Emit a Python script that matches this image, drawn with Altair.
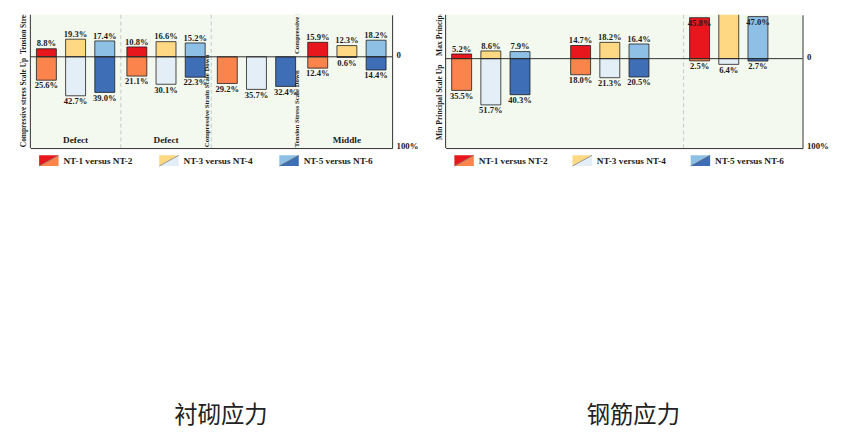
import altair as alt
import pandas as pd

# ---------------- data ----------------
SERIES = ["NT-1 versus NT-2", "NT-3 versus NT-4", "NT-5 versus NT-6"]
KEYS = ["s1_top", "s1_bot", "s2_top", "s2_bot", "s3_top", "s3_bot"]
COLORS = ["#e8161d", "#fb834c", "#fed883", "#e4eef6", "#8ec0e6", "#3d6eb6"]

LEFT_GROUPS = ["L1", "L2", "L3", "L4"]
LEFT_GROUP_LABELS = ["Defect", "Defect", "", "Middle"]
LEFT_TOP = [[8.8, 19.3, 17.4], [10.8, 16.6, 15.2], [None, None, None], [15.9, 12.3, 18.2]]
LEFT_BOTTOM = [[25.6, 42.7, 39.0], [21.1, 30.1, 22.3], [29.2, 35.7, 32.4], [12.4, 0.6, 14.4]]
LEFT_SEPARATORS = ["L2", "L3"]
LEFT_NOTE_GROUPS = ["L3", "L4", "L4"]
LEFT_NOTE_TEXTS = ["Compressive Strain Scale Down", "Tension Stress Scale Down", "Compressive Stress"]
LEFT_NOTE_START = [-99, -99, 3]
LEFT_SIDE_TEXTS = ["Compressive stress Scale Up", "Tension Stress Scale Down"]
LEFT_SIDE_START = [-99, 3]

RIGHT_GROUPS = ["R1", "R2", "R3"]
RIGHT_GROUP_LABELS = ["", "", ""]
RIGHT_TOP = [[5.2, 8.6, 7.9], [14.7, 18.2, 16.4], [45.8, 60.0, 47.0]]
RIGHT_BOTTOM = [[35.5, 51.7, 40.3], [18.0, 21.3, 20.5], [2.5, 6.4, 2.7]]
RIGHT_SEPARATORS = ["R3"]
RIGHT_SIDE_TEXTS = ["Min Principal Scale Up", "Max Principal Scale Down"]
RIGHT_SIDE_START = [-91, 3]

SCALE_TICKS = [0, -100]
SCALE_TICK_LABELS = ["0", "100%"]

CAPTIONS = ["衬砌应力", "钢筋应力"]

SERIF = "Liberation Serif"
INK = "#1a1a1a"
BG = "#f3f9ee"


def make_df(groups, tops, bots):
    rows = []
    for gi, g in enumerate(groups):
        for si, s in enumerate(SERIES):
            t = tops[gi][si]
            b = bots[gi][si]
            if t is not None:
                rows.append(dict(group=g, series=s, v=t, key=KEYS[2 * si], lab=f"{t:.1f}%"))
            if b is not None:
                rows.append(dict(group=g, series=s, v=-b, key=KEYS[2 * si + 1], lab=f"{b:.1f}%"))
    return pd.DataFrame(rows)


def panel(groups, tops, bots, group_labels, seps, notes, width, height, ymax, p_in, p_out):
    df = make_df(groups, tops, bots)
    ysc = alt.Scale(domain=[-100, ymax], nice=False, zero=False)
    xsc = alt.Scale(domain=groups, paddingInner=0, paddingOuter=0)
    xo = alt.XOffset("series:N", scale=alt.Scale(domain=SERIES, paddingInner=p_in, paddingOuter=p_out))
    y_axis = alt.Axis(orient="right", labels=False, ticks=False, grid=False, title=None,
                      domainColor="#2b2b2b", domainWidth=1)
    x_axis = alt.Axis(orient="bottom", labels=False, ticks=False, title=None, grid=False,
                      domainColor="#2b2b2b", domainWidth=1)
    xg = alt.X("group:N", scale=xsc, axis=x_axis)
    xg0 = alt.X("group:N", scale=xsc, axis=x_axis, bandPosition=0)
    xg1 = alt.X("group:N", scale=xsc, axis=x_axis, bandPosition=1)
    yv = alt.Y("v:Q", scale=ysc, stack=None, axis=y_axis)

    bars = alt.Chart(df).mark_bar(stroke="#1b1b1b", strokeWidth=0.8, clip=True).encode(
        x=xg, xOffset=xo, y=yv,
        color=alt.Color("key:N", scale=alt.Scale(domain=KEYS, range=COLORS), legend=None),
    )
    lab_style = dict(font=SERIF, fontWeight="bold", fontSize=8.8, color=INK)
    top_lab = alt.Chart(df).transform_filter(f"datum.v > 0 && datum.v <= {ymax - 10}").mark_text(
        baseline="bottom", dy=-0.5, **lab_style).encode(x=xg, xOffset=xo, y=yv, text="lab:N")
    in_lab = alt.Chart(df).transform_filter(f"datum.v > {ymax - 10} && datum.v <= {ymax}").mark_text(
        baseline="top", dy=2, **lab_style).encode(x=xg, xOffset=xo, y=yv, text="lab:N")
    bot_lab = alt.Chart(df).transform_filter("datum.v < 0").mark_text(
        baseline="top", dy=1.5, **lab_style).encode(x=xg, xOffset=xo, y=yv, text="lab:N")

    zero = alt.Chart(pd.DataFrame({"v": [0]})).mark_rule(color="#2b2b2b", strokeWidth=1).encode(y=yv)
    left_line = alt.Chart(pd.DataFrame({"group": [groups[0]]})).mark_rule(
        color="#2b2b2b", strokeWidth=1).encode(x=xg0)
    sep = alt.Chart(pd.DataFrame({"group": seps})).mark_rule(
        color="#c6c6c6", strokeWidth=1, strokeDash=[4, 3]).encode(x=xg0)
    gl = alt.Chart(pd.DataFrame({"group": groups, "label": group_labels, "v": [-100] * len(groups)})).mark_text(
        baseline="bottom", dy=-3, font=SERIF, fontWeight="bold", fontSize=9.5, color=INK).encode(
        x=xg, y=yv, text="label:N")
    ticks = alt.Chart(pd.DataFrame({"group": [groups[-1]] * 2, "v": SCALE_TICKS,
                                    "t": SCALE_TICK_LABELS})).mark_text(
        align="left", baseline="middle", dx=4.5, dy=-2, font=SERIF, fontWeight="bold",
        fontSize=9, color=INK).encode(x=xg1, y=yv, text="t:N")
    layers = [sep, bars, zero, left_line, top_lab, in_lab, bot_lab, gl, ticks]
    if notes is not None:
        ng, nt, nv = notes
        note = alt.Chart(pd.DataFrame({"group": ng, "text": nt, "v": nv})).mark_text(
            angle=270, align="left", baseline="middle", dy=-4.5, font=SERIF, fontWeight="bold",
            fontSize=7, color=INK, clip=True).encode(x=xg0, y=yv, text="text:N")
        layers.append(note)
    return alt.layer(*layers).properties(
        width=width, height=height, view=alt.ViewBackground(fill=BG, strokeWidth=0))


def side(texts, starts, width, height, ymax, fsize, shift):
    df = pd.DataFrame({"text": texts, "v": starts})
    return alt.Chart(df).mark_text(
        angle=270, align="left", baseline="middle", dy=shift, font=SERIF, fontWeight="bold",
        fontSize=fsize, color=INK, clip=True).encode(
        y=alt.Y("v:Q", scale=alt.Scale(domain=[-100, ymax], nice=False, zero=False), axis=None),
        text="text:N").properties(width=width, height=height)


UL = "M-1,-0.55L1,-0.55L-1,0.55Z"
LR = "M1,-0.55L1,0.55L-1,0.55Z"
DIAG = "M-1,0.55L1,-0.55"


def legend(width, first, last, cap, cap_dx, cap_offset):
    df = pd.DataFrame({"series": SERIES, "ktop": KEYS[0::2], "kbot": KEYS[1::2]})
    xl = alt.X("series:N", scale=alt.Scale(type="point", domain=SERIES, range=[first, last], padding=0), axis=None)
    cs = alt.Scale(domain=KEYS, range=COLORS)
    base = alt.Chart(df)
    up = base.mark_point(shape=UL, size=400, filled=True, opacity=1, strokeWidth=0).encode(
        x=xl, color=alt.Color("ktop:N", scale=cs, legend=None))
    lo = base.mark_point(shape=LR, size=400, filled=True, opacity=1, strokeWidth=0).encode(
        x=xl, color=alt.Color("kbot:N", scale=cs, legend=None))
    dg = base.mark_point(shape=DIAG, size=400, filled=False, opacity=1, color="#5a5a5a",
                         strokeWidth=0.6).encode(x=xl)
    tx = base.mark_text(align="left", baseline="middle", dx=15, font=SERIF, fontWeight="bold",
                        fontSize=9.5, color=INK).encode(x=xl, text="series:N")
    title = alt.TitleParams(text=cap, orient="bottom", anchor="middle", frame="group",
                            offset=cap_offset, fontSize=24, font="Noto Sans CJK SC",
                            fontWeight="normal", color="#222222", baseline="alphabetic", dx=cap_dx)
    return alt.layer(up, lo, dg, tx).properties(width=width, height=12, title=title)


H = 137
L_YMAX = 46
R_YMAX = 49

left_panel = panel(LEFT_GROUPS, LEFT_TOP, LEFT_BOTTOM, LEFT_GROUP_LABELS, LEFT_SEPARATORS,
                   (LEFT_NOTE_GROUPS, LEFT_NOTE_TEXTS, LEFT_NOTE_START), 372, H, L_YMAX, 0.317, 0.208)
right_panel = panel(RIGHT_GROUPS, RIGHT_TOP, RIGHT_BOTTOM, RIGHT_GROUP_LABELS, RIGHT_SEPARATORS,
                    None, 367, H, R_YMAX, 0.309, 0.16)

row1 = alt.hconcat(
    side(LEFT_SIDE_TEXTS, LEFT_SIDE_START, 13, H, L_YMAX, 7.6, 0),
    left_panel,
    side(RIGHT_SIDE_TEXTS, RIGHT_SIDE_START, 55, H, R_YMAX, 7.8, 21.5),
    right_panel,
    spacing=0, bounds="flush",
)
row2 = alt.hconcat(
    legend(385, 32, 279, CAPTIONS[0], 16.5, 263),
    legend(380, 32, 275, CAPTIONS[1], 16, 263),
    spacing=42, bounds="flush",
)

chart = alt.vconcat(row1, row2, spacing=3).properties(
    padding={"left": 10, "top": 0, "right": 28, "bottom": 0}
).configure_view(strokeWidth=0)

chart.save("out.html", embed_options={"renderer": "svg", "actions": False})
